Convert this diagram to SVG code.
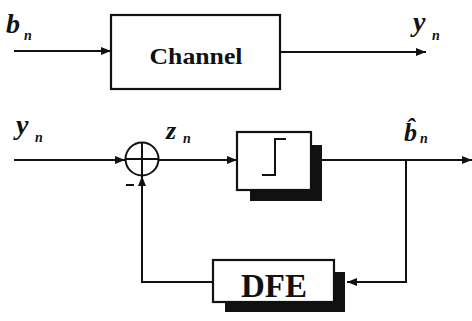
<svg xmlns="http://www.w3.org/2000/svg" width="472" height="321" viewBox="0 0 472 321">
<defs>
<marker id="ah" viewBox="0 0 10 8" refX="10" refY="4" markerWidth="10" markerHeight="8" markerUnits="userSpaceOnUse" orient="auto">
<path d="M0,0 L10,4 L0,8 Z" fill="#111"/>
</marker>
</defs>
<style>
.ln{stroke:#111;stroke-width:2;fill:none}
.bx{stroke:#111;stroke-width:2.2;fill:#fff}
.sh{fill:#111}
.lbl{font-family:"Liberation Serif",serif;font-style:italic;font-weight:bold;fill:#111}
.box{font-family:"Liberation Serif",serif;font-weight:bold;fill:#111}
</style>
<rect width="472" height="321" fill="#fff"/>
<g id="connectors">
<line class="ln" x1="14" y1="51" x2="111" y2="51" marker-end="url(#ah)"/>
<line class="ln" x1="280" y1="52" x2="426" y2="52" marker-end="url(#ah)"/>
<line class="ln" x1="14" y1="160" x2="125" y2="160" marker-end="url(#ah)"/>
<line class="ln" x1="159" y1="160" x2="237" y2="160" marker-end="url(#ah)"/>
<line class="ln" x1="322" y1="160" x2="472" y2="160" marker-end="url(#ah)"/>
<polyline class="ln" points="406,160 406,282 347,282" marker-end="url(#ah)"/>
<polyline class="ln" points="213,282 142,282 142,176" marker-end="url(#ah)"/>
</g>
<g id="labels">
<text class="lbl" x="6" y="33" font-size="28">b</text>
<text class="lbl" x="24" y="40" font-size="14">n</text>
<text class="lbl" x="413" y="31" font-size="28">y</text>
<text class="lbl" x="432" y="40" font-size="14">n</text>
<text class="lbl" x="16" y="134" font-size="28">y</text>
<text class="lbl" x="35" y="142" font-size="14">n</text>
<text class="lbl" x="166" y="139" font-size="26">z</text>
<text class="lbl" x="183" y="143" font-size="14">n</text>
<text class="lbl" x="404" y="141" font-size="26">b̂</text>
<text class="lbl" x="420" y="143" font-size="14">n</text>
<line class="ln" x1="126" y1="185" x2="134" y2="185" stroke-width="3"/>
</g>
<g id="channel">
<rect class="bx" x="111" y="15" width="169" height="74"/>
<text class="box" x="196" y="64" font-size="23" text-anchor="middle" textLength="93" lengthAdjust="spacingAndGlyphs">Channel</text>
</g>
<g id="summer">
<circle class="ln" cx="142" cy="159" r="16.5" stroke-width="2.4"/>
<line class="ln" x1="125.5" y1="159" x2="158.5" y2="159"/>
<line class="ln" x1="142" y1="142.5" x2="142" y2="175.5"/>
</g>
<g id="decision">
<rect class="sh" x="250" y="145" width="72" height="56"/>
<rect class="bx" x="237" y="132" width="74" height="58"/>
<polyline class="ln" points="262,175 275,175 275,139 286,139"/>
</g>
<g id="dfe">
<rect class="sh" x="225" y="272" width="120" height="40"/>
<rect class="bx" x="213" y="260" width="121" height="42"/>
<text class="box" x="274" y="297" font-size="33" text-anchor="middle">DFE</text>
</g>
</svg>
